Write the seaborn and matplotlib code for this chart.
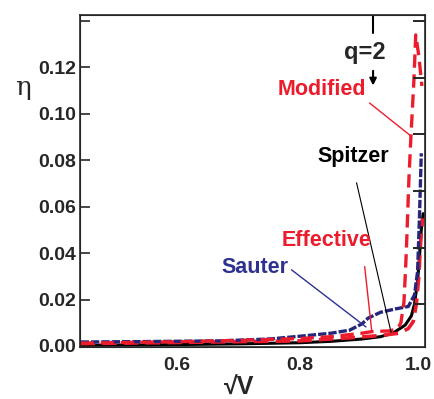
import numpy as np
import pandas as pd
import seaborn as sns
import matplotlib.transforms as mtransforms
from matplotlib import pyplot as plt

# sqrt(V) vs eta
spitzer_x = [0.445, 0.5, 0.6, 0.7, 0.8, 0.85, 0.9, 0.93, 0.95, 0.97, 0.98, 0.985, 0.99, 0.993, 0.996, 0.999]
spitzer_y = [0.0003, 0.0004, 0.0006, 0.0009, 0.0014, 0.002, 0.003, 0.004, 0.0055, 0.009, 0.013, 0.018, 0.028, 0.038, 0.050, 0.057]

sauter_x = [0.445, 0.55, 0.67, 0.75, 0.8, 0.85, 0.88, 0.9, 0.91, 0.93, 0.955, 0.975, 0.985, 0.99, 0.993, 0.996]
sauter_y = [0.0017, 0.0019, 0.0022, 0.003, 0.0042, 0.0055, 0.0068, 0.0095, 0.012, 0.0145, 0.016, 0.017, 0.022, 0.032, 0.055, 0.083]

effective_x = [0.445, 0.6, 0.8, 0.88, 0.93, 0.96, 0.975, 0.983, 0.988, 0.992, 0.995, 0.998]
effective_y = [0.001, 0.0015, 0.0022, 0.0035, 0.0045, 0.0055, 0.0075, 0.0105, 0.018, 0.03, 0.045, 0.055]

modified_x = [0.445, 0.6, 0.7, 0.8, 0.85, 0.9, 0.916, 0.945, 0.958, 0.963, 0.968, 0.970, 0.972, 0.976, 0.979, 0.984, 0.987, 0.992, 0.997]
modified_y = [0.0012, 0.0018, 0.0024, 0.0032, 0.004, 0.0055, 0.0062, 0.0065, 0.0075, 0.010, 0.019, 0.03, 0.042, 0.072, 0.089, 0.114, 0.134, 0.125, 0.112]

RED = "#ec1c2c"
NAVY = "#25267a"
BLUE = "#2e3192"

sns.set_style("ticks")
plt.rcParams['font.family'] = ['Liberation Sans', 'DejaVu Sans']

fig = plt.figure(figsize=(4.35, 3.99), dpi=100)
ax = fig.add_axes([0.184, 0.130, 0.793, 0.832])

sns.lineplot(x=spitzer_x, y=spitzer_y, color="black", lw=2.2, ax=ax)
sns.lineplot(x=effective_x, y=effective_y, color=RED, lw=2.6, ax=ax, linestyle=(0, (4, 2)))
sns.lineplot(x=sauter_x, y=sauter_y, color=NAVY, lw=2.4, ax=ax, linestyle=(0, (2.5, 0.6)))
sns.lineplot(x=modified_x, y=modified_y, color=RED, lw=2.4, ax=ax, linestyle=(0, (4, 2)))

ax.set_xlim(0.444, 1.002)
ax.set_ylim(-0.0005, 0.1425)
ax.set_xticks([0.6, 0.8, 1.0])
ax.set_xticklabels(["0.6", "0.8", "1.0"])
ax.set_yticks([0, 0.02, 0.04, 0.06, 0.08, 0.10, 0.12, 0.14])
ax.set_yticklabels(["0.00", "0.02", "0.04", "0.06", "0.08", "0.10", "0.12", ""])
ax.tick_params(axis="both", direction="in", length=7, width=1.2, labelsize=14, pad=3)
ax.tick_params(axis="x", length=0, pad=7)
for lab in ax.get_xticklabels() + ax.get_yticklabels():
    lab.set_fontweight("bold")
# keep the "1.0" label inside the figure
last = ax.get_xticklabels()[-1]
last.set_transform(last.get_transform() + mtransforms.ScaledTranslation(-5 / 100, 0, fig.dpi_scale_trans))
for s in ax.spines.values():
    s.set_linewidth(1.2)

# right-hand ticks (secondary scale, no labels)
ax2 = ax.twinx()
ax2.set_ylim(-0.76, 5.105)
ax2.set_yticks([0, 1, 2, 3, 4, 5])
ax2.set_yticklabels([])
ax2.tick_params(axis="y", direction="in", length=9, width=1.4)

ax.set_ylabel("η", rotation=0, fontsize=19, family=["DejaVu Serif"])
ax.yaxis.set_label_coords(-0.165, 0.745)
ax.set_xlabel("√V", fontsize=18, fontweight="bold")
ax.xaxis.set_label_coords(0.46, -0.085)

# q = 2 marker
ax.plot([0.918, 0.918], [0.1425, 0.1348], color="black", lw=1.5)
ax.text(0.905, 0.1265, "q=2", ha="center", va="center", fontsize=17, fontweight="bold")
ax.annotate("", xy=(0.918, 0.111), xytext=(0.918, 0.1197),
            arrowprops=dict(arrowstyle="-|>", color="black", lw=1.5, mutation_scale=10))

# curve labels with leader lines
ax.annotate("Modified", xy=(0.979, 0.0905), xytext=(0.8355, 0.1103), color=RED,
            fontsize=15.5, fontweight="bold", ha="center", va="center",
            arrowprops=dict(arrowstyle="-", color=RED, lw=1, shrinkA=0, shrinkB=0,
                            relpos=(1.0, 0.0)))
ax.annotate("Spitzer", xy=(0.947, 0.0060), xytext=(0.8855, 0.0815), color="black",
            fontsize=15.5, fontweight="bold", ha="center", va="center",
            arrowprops=dict(arrowstyle="-", color="black", lw=0.8, shrinkA=9, shrinkB=0,
                            relpos=(0.5, 0.0)))
ax.annotate("Effective", xy=(0.916, 0.0060), xytext=(0.8435, 0.0455), color=RED,
            fontsize=15.5, fontweight="bold", ha="center", va="center",
            arrowprops=dict(arrowstyle="-", color=RED, lw=1, shrinkA=9, shrinkB=0,
                            relpos=(0.9, 0.0)))
ax.annotate("Sauter", xy=(0.9065, 0.0082), xytext=(0.7265, 0.0339), color=BLUE,
            fontsize=15.5, fontweight="bold", ha="center", va="center",
            arrowprops=dict(arrowstyle="-", color=BLUE, lw=1, shrinkA=0, shrinkB=0,
                            relpos=(1.0, 0.5)))

fig.savefig("out.png", dpi=100)
